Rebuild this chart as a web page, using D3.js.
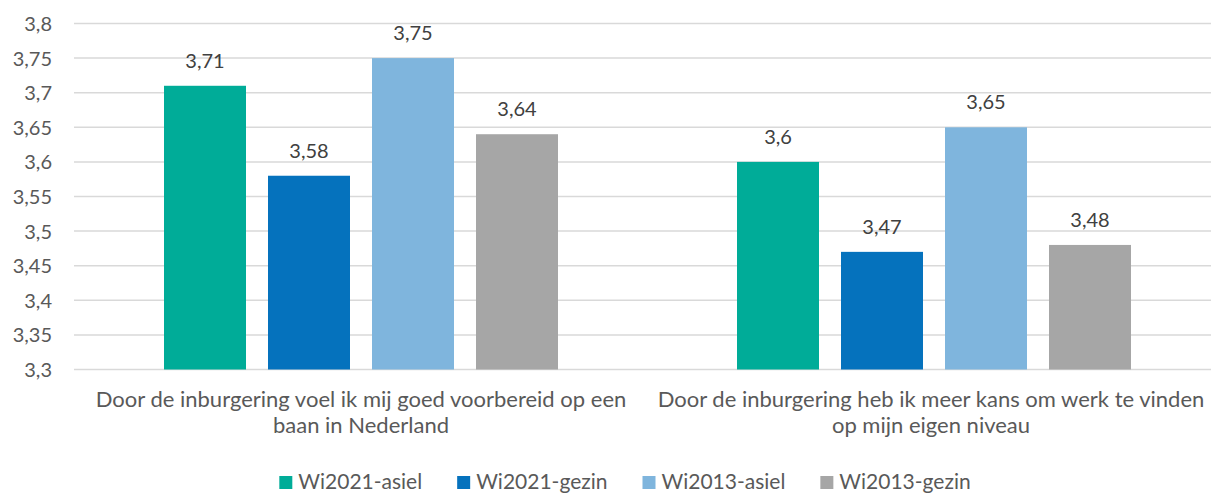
<!DOCTYPE html>
<html>
<head>
<meta charset="utf-8">
<script src="https://cdn.jsdelivr.net/npm/d3@7"></script>
<style>
  body { margin: 0; background: #fff; }
  svg { display: block; font-family: Lato, "Open Sans", sans-serif; }
</style>
</head>
<body>
<div id="chart"></div>
<script>
var categories = [
    ["Door de inburgering voel ik mij goed voorbereid op een", "baan in Nederland"],
    ["Door de inburgering heb ik meer kans om werk te vinden", "op mijn eigen niveau"]
];
var seriesNames = ["Wi2021-asiel", "Wi2021-gezin", "Wi2013-asiel", "Wi2013-gezin"];
var seriesColors = ["#00ac98", "#0572bd", "#7fb5dd", "#a6a6a6"];
var wi2021Asiel = [3.71, 3.6];
var wi2021Gezin = [3.58, 3.47];
var wi2013Asiel = [3.75, 3.65];
var wi2013Gezin = [3.64, 3.48];
var yTicks = [3.3, 3.35, 3.4, 3.45, 3.5, 3.55, 3.6, 3.65, 3.7, 3.75, 3.8];

var allSeries = [wi2021Asiel, wi2021Gezin, wi2013Asiel, wi2013Gezin];

var width = 1211, height = 494;

var svg = d3.select("#chart")
    .append("svg")
    .attr("width", width)
    .attr("height", height);

var fmt = function(v) { return String(v).replace(".", ","); };

var y = d3.scaleLinear()
    .domain([3.3, 3.8])
    .range([369.5, 23.5]);

var x0 = d3.scaleBand()
    .domain(d3.range(categories.length))
    .range([74.5, 1220.5]);

// 4 bars of 82 with 22 gaps inside a 573 band
var x1 = d3.scaleBand()
    .domain(d3.range(seriesNames.length))
    .range([89.5, 573 - 89.5])
    .paddingInner(22 / 104);

// gridlines
svg.append("g")
    .selectAll("line")
    .data(yTicks)
    .enter()
    .append("line")
    .attr("x1", 74)
    .attr("x2", width)
    .attr("y1", function(d) { return y(d); })
    .attr("y2", function(d) { return y(d); })
    .attr("stroke", "#d9d9d9")
    .attr("stroke-width", 1.5);

// y labels
svg.append("g")
    .selectAll("text")
    .data(yTicks)
    .enter()
    .append("text")
    .attr("x", 52)
    .attr("y", function(d) { return y(d) + 7.5; })
    .attr("text-anchor", "end")
    .attr("fill", "#595959")
    .style("font-size", "20px")
    .text(fmt);

// bars
var groups = svg.append("g")
    .selectAll("g")
    .data(categories)
    .enter()
    .append("g")
    .attr("transform", function(d, i) { return "translate(" + x0(i) + ",0)"; });

groups.each(function(c, ci) {
    var g = d3.select(this);
    var vals = allSeries.map(function(s) { return s[ci]; });
    g.selectAll("rect")
        .data(vals)
        .enter()
        .append("rect")
        .attr("x", function(d, i) { return x1(i); })
        .attr("y", function(d) { return y(d); })
        .attr("width", x1.bandwidth())
        .attr("height", function(d) { return y(3.3) - y(d); })
        .attr("fill", function(d, i) { return seriesColors[i]; });
    g.selectAll("text.val")
        .data(vals)
        .enter()
        .append("text")
        .attr("class", "val")
        .attr("x", function(d, i) { return x1(i) + x1.bandwidth() / 2; })
        .attr("y", function(d) { return y(d) - 18; })
        .attr("text-anchor", "middle")
        .attr("fill", "#404040")
        .style("font-size", "20px")
        .text(fmt);
});

// category labels
var labelShift = [0, -3];
svg.append("g")
    .selectAll("text")
    .data(categories)
    .enter()
    .append("text")
    .attr("x", function(d, i) { return x0(i) + x0.bandwidth() / 2 + labelShift[i]; })
    .attr("y", 407)
    .attr("text-anchor", "middle")
    .attr("fill", "#595959")
    .style("font-size", "22px")
    .each(function(d) {
        var t = d3.select(this);
        d.forEach(function(line, li) {
            t.append("tspan")
                .attr("x", t.attr("x"))
                .attr("dy", li == 0 ? 0 : 26)
                .text(line);
        });
    });

// legend, laid out from measured text widths and centred
var legend = svg.append("g");
var items = legend.selectAll("g")
    .data(seriesNames)
    .enter()
    .append("g");
items.append("rect")
    .attr("x", 0)
    .attr("y", 476)
    .attr("width", 13)
    .attr("height", 13)
    .attr("fill", function(d, i) { return seriesColors[i]; });
items.append("text")
    .attr("x", 19)
    .attr("y", 489)
    .attr("fill", "#595959")
    .style("font-size", "21px")
    .text(function(d) { return d; });

var pos = 0;
items.each(function() {
    var w = d3.select(this).select("text").node().getComputedTextLength();
    d3.select(this).attr("transform", "translate(" + pos + ",0)");
    pos += 19 + w + 35;
});
var total = pos - 35;
legend.attr("transform", "translate(" + (625 - total / 2) + ",0)");
</script>
</body>
</html>
